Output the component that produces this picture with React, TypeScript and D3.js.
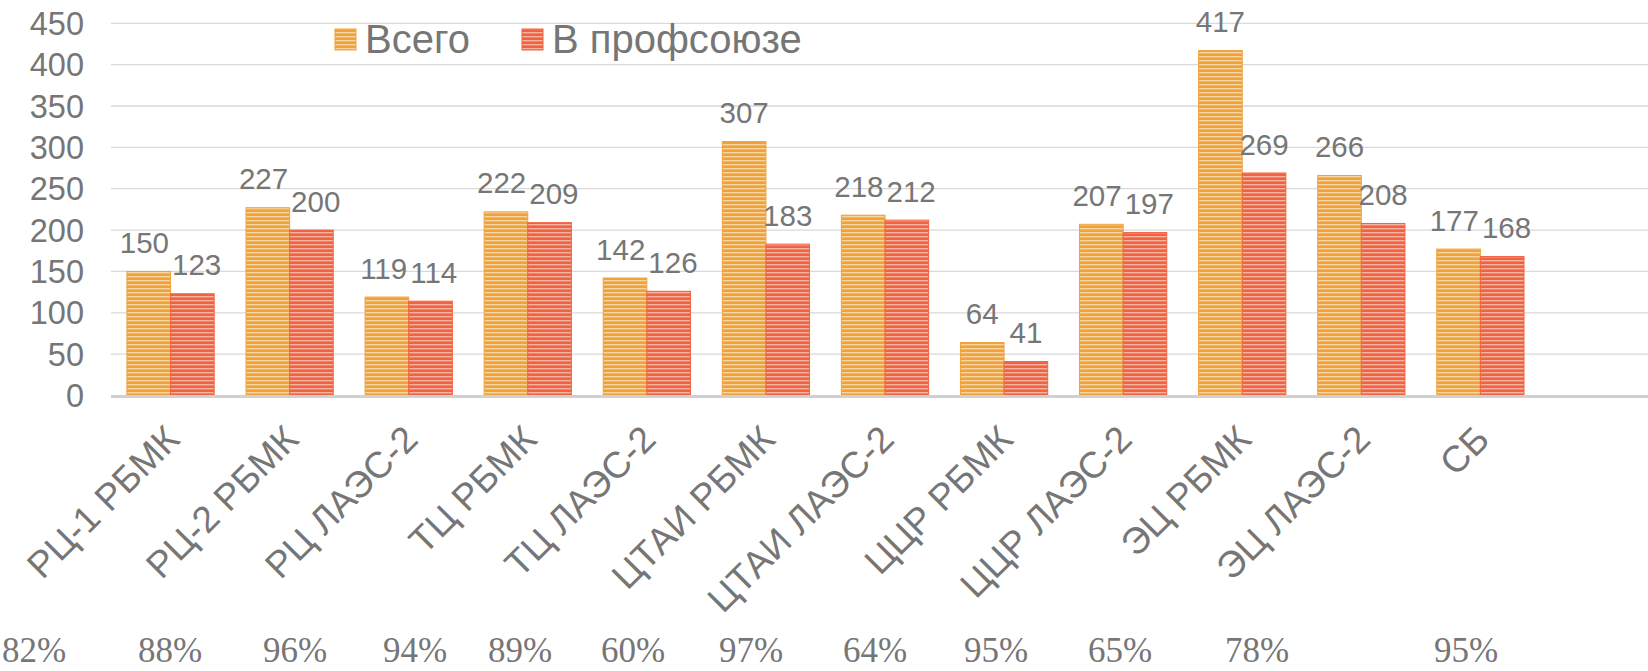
import { useEffect, useRef } from 'react';
import * as d3 from 'd3';

const categories = [
  'РЦ-1 РБМК',
  'РЦ-2 РБМК',
  'РЦ ЛАЭС-2',
  'ТЦ РБМК',
  'ТЦ ЛАЭС-2',
  'ЦТАИ РБМК',
  'ЦТАИ ЛАЭС-2',
  'ЦЦР РБМК',
  'ЦЦР ЛАЭС-2',
  'ЭЦ РБМК',
  'ЭЦ ЛАЭС-2',
  'СБ',
];
const totalValues = [150, 227, 119, 222, 142, 307, 218, 64, 207, 417, 266, 177];
const unionValues = [123, 200, 114, 209, 126, 183, 212, 41, 197, 269, 208, 168];
const seriesNames = ['Всего', 'В профсоюзе'];
const yTicks = [0, 50, 100, 150, 200, 250, 300, 350, 400, 450];

// x centres of the percentage text row under the chart (a loose text box in the original)
const pctLabelX = [34, 170, 295, 415, 520, 633, 751, 875, 996, 1120, 1257, 1466];

const W = 1648;
const H = 671;
const FONT = "Arial, 'Liberation Sans', sans-serif";
const TEXT = '#767676';
const palette = [
  { fill: '#EFA23C', light: '#F8D49E', id: 'pat-total' },
  { fill: '#F06342', light: '#F8B3A0', id: 'pat-union' },
];

export default function App() {
  const svgRef = useRef<SVGSVGElement>(null);

  useEffect(() => {
    if (!svgRef.current) return;
    const svg = d3.select(svgRef.current);
    svg.selectAll('*').remove();

    // the plot area runs a little past the right edge of the picture
    const plot = { left: 111, right: 1659, top: 23.3, bottom: 395.5 };

    // striped pattern fills (Excel "narrow horizontal")
    const defs = svg.append('defs');
    palette.forEach((p) => {
      const pat = defs
        .append('pattern')
        .attr('id', p.id)
        .attr('patternUnits', 'userSpaceOnUse')
        .attr('width', 8)
        .attr('height', 4);
      pat.append('rect').attr('width', 8).attr('height', 4).attr('fill', p.fill);
      pat.append('rect').attr('y', 0).attr('width', 8).attr('height', 1.4).attr('fill', p.light);
    });

    const slots = [...categories, ''];
    const x = d3.scaleBand<string>().domain(slots).range([plot.left, plot.right]);
    const xs = d3
      .scaleBand<string>()
      .domain(seriesNames)
      .range([0, x.bandwidth()])
      .paddingOuter(0.365);
    const y = d3.scaleLinear().domain([0, 450]).range([plot.bottom, plot.top]);

    // gridlines
    svg
      .append('g')
      .selectAll('line')
      .data(yTicks.filter((t) => t > 0))
      .join('line')
      .attr('x1', plot.left)
      .attr('x2', W)
      .attr('y1', (d) => y(d))
      .attr('y2', (d) => y(d))
      .attr('stroke', '#D9D9D9')
      .attr('stroke-width', 1.3);

    // y labels
    svg
      .append('g')
      .selectAll('text')
      .data(yTicks)
      .join('text')
      .attr('x', 84)
      .attr('y', (d) => y(d))
      .attr('dy', '0.36em')
      .attr('text-anchor', 'end')
      .attr('font-family', FONT)
      .attr('font-size', 32.5)
      .attr('fill', TEXT)
      .text((d) => d);

    // bars
    const seriesData = [totalValues, unionValues];
    seriesData.forEach((vals, si) => {
      const name = seriesNames[si];
      svg
        .append('g')
        .selectAll('rect')
        .data(vals)
        .join('rect')
        .attr('x', (_, i) => (x(categories[i]) ?? 0) + (xs(name) ?? 0))
        .attr('y', (d) => y(d))
        .attr('width', xs.bandwidth())
        .attr('height', (d) => plot.bottom - y(d))
        .attr('fill', `url(#${palette[si].id})`)
        .attr('stroke', palette[si].fill)
        .attr('stroke-width', 1);
    });

    // data labels, nudged apart when a pair would collide
    const labels = svg.append('g');
    categories.forEach((c, i) => {
      const vals = [totalValues[i], unionValues[i]];
      const nodes = vals.map((v, si) =>
        labels
          .append('text')
          .attr('x', (x(c) ?? 0) + (xs(seriesNames[si]) ?? 0) + xs.bandwidth() / 2)
          .attr('y', y(v) - 18.5)
          .attr('text-anchor', 'middle')
          .attr('font-family', FONT)
          .attr('font-size', 29.5)
          .attr('fill', TEXT)
          .text(v),
      );
      if (Math.abs(y(vals[0]) - y(vals[1])) < 30) {
        const w0 = (nodes[0].node() as SVGTextElement).getComputedTextLength();
        const w1 = (nodes[1].node() as SVGTextElement).getComputedTextLength();
        const overlap = w0 / 2 + w1 / 2 + 3 - xs.bandwidth();
        if (overlap > 0) {
          nodes[0].attr('x', +nodes[0].attr('x') - overlap / 2);
          nodes[1].attr('x', +nodes[1].attr('x') + overlap / 2);
        }
      }
    });

    // axis line
    svg
      .append('line')
      .attr('x1', plot.left)
      .attr('x2', W)
      .attr('y1', plot.bottom + 1)
      .attr('y2', plot.bottom + 1)
      .attr('stroke', '#D0D0D0')
      .attr('stroke-width', 3);

    // rotated category labels
    svg
      .append('g')
      .selectAll('text')
      .data(categories)
      .join('text')
      .attr(
        'transform',
        (d) => `translate(${(x(d) ?? 0) + x.bandwidth() / 2 + 11},${plot.bottom + 46}) rotate(-45)`,
      )
      .attr('text-anchor', 'end')
      .attr('font-family', FONT)
      .attr('font-size', 37)
      .attr('fill', TEXT)
      .text((d) => d);

    // legend
    const legend = svg.append('g');
    const legendX = [335, 522];
    seriesNames.forEach((name, i) => {
      legend
        .append('rect')
        .attr('x', legendX[i])
        .attr('y', 29)
        .attr('width', 21)
        .attr('height', 21)
        .attr('fill', `url(#${palette[i].id})`)
        .attr('stroke', palette[i].fill)
        .attr('stroke-width', 1);
      legend
        .append('text')
        .attr('x', legendX[i] + 30)
        .attr('y', 53)
        .attr('font-family', FONT)
        .attr('font-size', 40)
        .attr('fill', TEXT)
        .text(name);
    });

    // percentage row
    svg
      .append('g')
      .selectAll('text')
      .data(unionValues.map((u, i) => Math.round((u / totalValues[i]) * 100)))
      .join('text')
      .attr('x', (_, i) => pctLabelX[i])
      .attr('y', 662)
      .attr('text-anchor', 'middle')
      .attr('font-family', "'Times New Roman', 'Liberation Serif', serif")
      .attr('font-size', 35)
      .attr('fill', TEXT)
      .text((d) => `${d}%`);
  }, []);

  return (
    <svg
      ref={svgRef}
      width={W}
      height={H}
      style={{ position: 'absolute', left: 0, top: 0, background: '#fff' }}
    />
  );
}
